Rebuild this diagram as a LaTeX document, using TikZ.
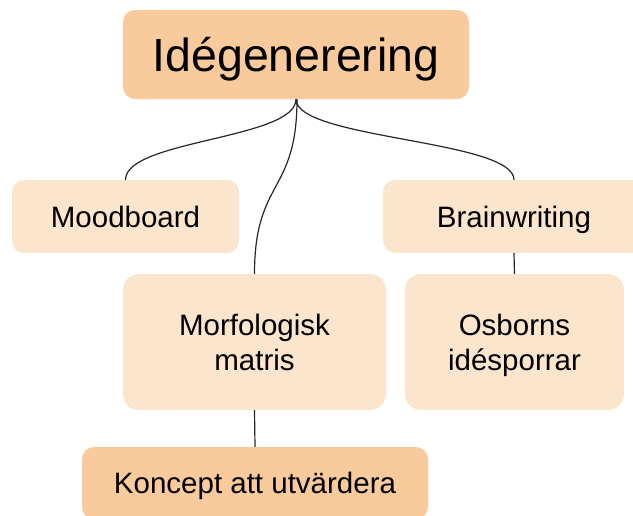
\documentclass[tikz,border=0pt]{standalone}
\usepackage{fontspec}
\setmainfont{Liberation Sans}
\definecolor{orangeA}{HTML}{F9CB9C}
\definecolor{orangeB}{HTML}{FCE5CD}
\definecolor{linec}{HTML}{262626}
\tikzset{
  box/.style={rectangle, rounded corners=12pt, inner sep=0pt, align=center,
    font=\fontsize{29.5}{35}\selectfont, text=black, text depth=0pt},
  oneline/.style={text height=21.1pt},
  mainbox/.style={box, fill=orangeA},
  subbox/.style={box, fill=orangeB},
  conn/.style={draw=linec, line width=1.2pt},
}
\begin{document}
\begin{tikzpicture}[x=1pt,y=-1pt]
\useasboundingbox (0,0) rectangle (633,515);
\clip (0,0) rectangle (633,515);
\node[mainbox, minimum width=346pt, minimum height=89pt, font=\fontsize{46.5}{52}\selectfont, text height=33.3pt] (top) at (296,54.5) {Idégenerering};
\node[subbox, oneline, minimum width=227pt, minimum height=73pt] (mood) at (125.5,216.5) {Moodboard};
\node[subbox, oneline, minimum width=262pt, minimum height=73pt] (brain) at (514,216.5) {Brainwriting};
\node[subbox, rounded corners=16pt, minimum width=263pt, minimum height=136pt] (morf) at (254.5,342) {Morfologisk\\matris};
\node[subbox, rounded corners=16pt, minimum width=219pt, minimum height=136pt] (osb) at (514.5,342) {Osborns\\idésporrar};
\node[mainbox, oneline, minimum width=346pt, minimum height=72pt] (konc) at (255,483) {Koncept att utvärdera};
\draw[conn] (top.south) .. controls +(0,40) and +(0,-40) .. (mood.north);
\draw[conn] (top.south) .. controls +(0,40) and +(0,-40) .. (brain.north);
\draw[conn] ([xshift=1pt]top.south) .. controls +(0,95) and +(0,-95) .. (morf.north);
\draw[conn] (brain.south) -- (osb.north);
\draw[conn] (morf.south) -- (konc.north);
\end{tikzpicture}
\end{document}
